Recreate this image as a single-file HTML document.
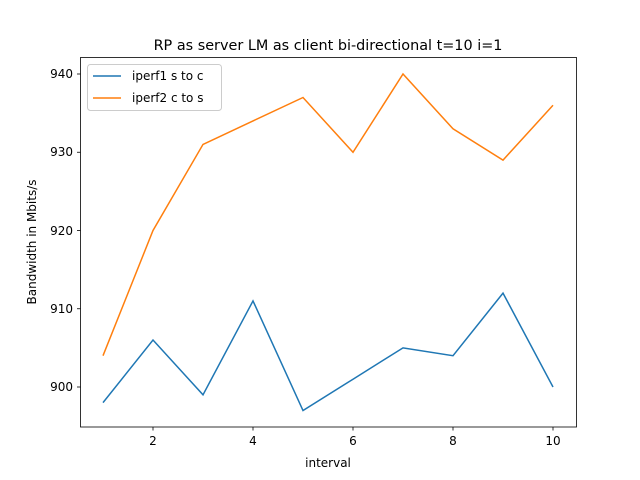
<!DOCTYPE html>
<html><head><meta charset="utf-8"><style>body{margin:0;background:#fff}svg{display:block}text{font-family:"DejaVu Sans","Liberation Sans",sans-serif;fill:#000}</style></head>
<body>
<svg width="640" height="480" xmlns="http://www.w3.org/2000/svg">
<rect width="640" height="480" fill="#fff"/>
<text x="328" y="50" font-size="14.4" text-anchor="middle">RP as server LM as client bi-directional t=10 i=1</text>
<rect x="80.5" y="57.5" width="496" height="369.5" fill="none" stroke="#000" stroke-width="0.8"/>
<g stroke="#000" stroke-width="0.8">
<line x1="153" y1="427" x2="153" y2="430.5"/><line x1="253" y1="427" x2="253" y2="430.5"/><line x1="353" y1="427" x2="353" y2="430.5"/><line x1="453" y1="427" x2="453" y2="430.5"/><line x1="553" y1="427" x2="553" y2="430.5"/>
<line x1="77" y1="387" x2="80.5" y2="387"/><line x1="77" y1="308.75" x2="80.5" y2="308.75"/><line x1="77" y1="230.5" x2="80.5" y2="230.5"/><line x1="77" y1="152.25" x2="80.5" y2="152.25"/><line x1="77" y1="74" x2="80.5" y2="74"/>
</g>
<g font-size="12" text-anchor="middle">
<text x="153" y="445">2</text><text x="253" y="445">4</text><text x="353" y="445">6</text><text x="453" y="445">8</text><text x="553" y="445">10</text>
</g>
<g font-size="12" text-anchor="end">
<text x="73" y="391">900</text><text x="73" y="313">910</text><text x="73" y="235">920</text><text x="73" y="156">930</text><text x="73" y="78">940</text>
</g>
<text x="328" y="467" font-size="12" text-anchor="middle">interval</text>
<text transform="translate(36,242) rotate(-90)" font-size="12" text-anchor="middle">Bandwidth in Mbits/s</text>
<polyline fill="none" stroke="#1f77b4" stroke-width="1.5" points="103,402.65 153,340.05 203,394.8 253,300.9 303,410.5 353,379.2 403,347.9 453,355.7 503,293.1 553,387"/>
<polyline fill="none" stroke="#ff7f0e" stroke-width="1.5" points="103,355.7 153,230.5 203,144.4 253,120.95 303,97.5 353,152.25 403,74 453,128.8 503,160.1 553,105.3"/>
<rect x="87.5" y="64.5" width="134" height="46" rx="3" fill="#fff" stroke="#ccc" stroke-width="1"/>
<line x1="93" y1="76" x2="121" y2="76" stroke="#1f77b4" stroke-width="1.5"/>
<line x1="93" y1="98" x2="121" y2="98" stroke="#ff7f0e" stroke-width="1.5"/>
<text x="132" y="80" font-size="12">iperf1 s to c</text>
<text x="132" y="102" font-size="12">iperf2 c to s</text>
</svg>
</body></html>
